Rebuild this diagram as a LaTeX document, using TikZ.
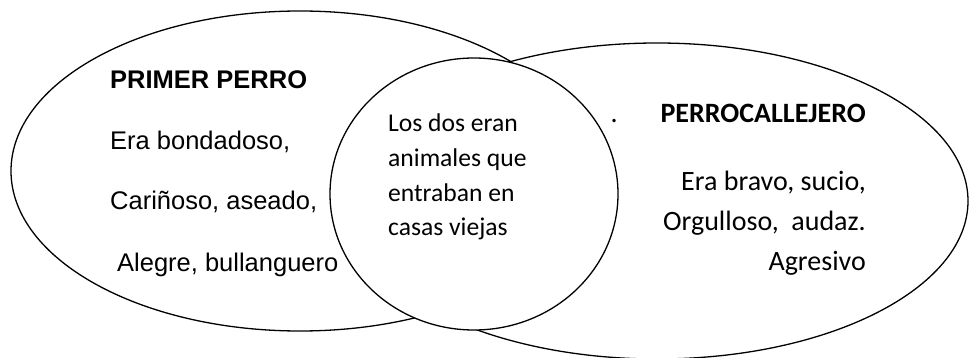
\documentclass[tikz,border=0pt]{standalone}
\usepackage{fontspec}
\setmainfont{Liberation Sans}
\newfontfamily\calibri{Carlito}
\usepackage{tikz}
\usetikzlibrary{shapes}

\begin{document}
\begin{tikzpicture}[
        x=1pt, y=-1pt,
        conjunto/.style={draw, ellipse, fill=white, line width=1.3pt, inner sep=0pt},
        izq/.style={anchor=base west, inner sep=0pt, font=\fontsize{25.5}{30}\selectfont},
        der/.style={anchor=base east, inner sep=0pt, font=\calibri\fontsize{28}{33}\selectfont},
        medio/.style={anchor=base west, inner sep=0pt, font=\calibri\fontsize{25.6}{30}\selectfont}
      ]
        \useasboundingbox (0,0) rectangle (969,358);
        % los tres conjuntos
        \node[conjunto, minimum width=578pt, minimum height=320pt] (perro1) at (300,171) {};
        \node[conjunto, minimum width=622pt, minimum height=316pt] (perro2) at (657,201) {};
        \node[conjunto, minimum width=288pt, minimum height=272pt] (comun) at (474,194) {};

        % primer perro
        \node[izq, font=\bfseries\fontsize{25.5}{30}\selectfont] (titulo1) at (110,89) {PRIMER PERRO};
        \node[izq] (rasgo1a) at (110,150) {Era bondadoso,};
        \node[izq] (rasgo1b) at (110,210) {Cariñoso, aseado,};
        \node[izq] (rasgo1c) at (117,271) {Alegre, bullanguero};

        % perro callejero
        \node[der, font=\calibri\bfseries\fontsize{28}{33}\selectfont] (titulo2) at (866,123) {PERROCALLEJERO};
        \node[der] (rasgo2a) at (866,191) {Era bravo, sucio,};
        \node[der] (rasgo2b) at (866,231) {Orgulloso,\ \ audaz.};
        \node[der] (rasgo2c) at (866,270) {Agresivo};
        \node[der] (punto) at (618,123) {.};

        % lo comun
        \node[medio] (comun1) at (388,132) {Los dos eran};
        \node[medio] (comun2) at (388,167) {animales que};
        \node[medio] (comun3) at (388,202) {entraban en};
        \node[medio] (comun4) at (388,236) {casas viejas};
      \end{tikzpicture}
\end{document}
